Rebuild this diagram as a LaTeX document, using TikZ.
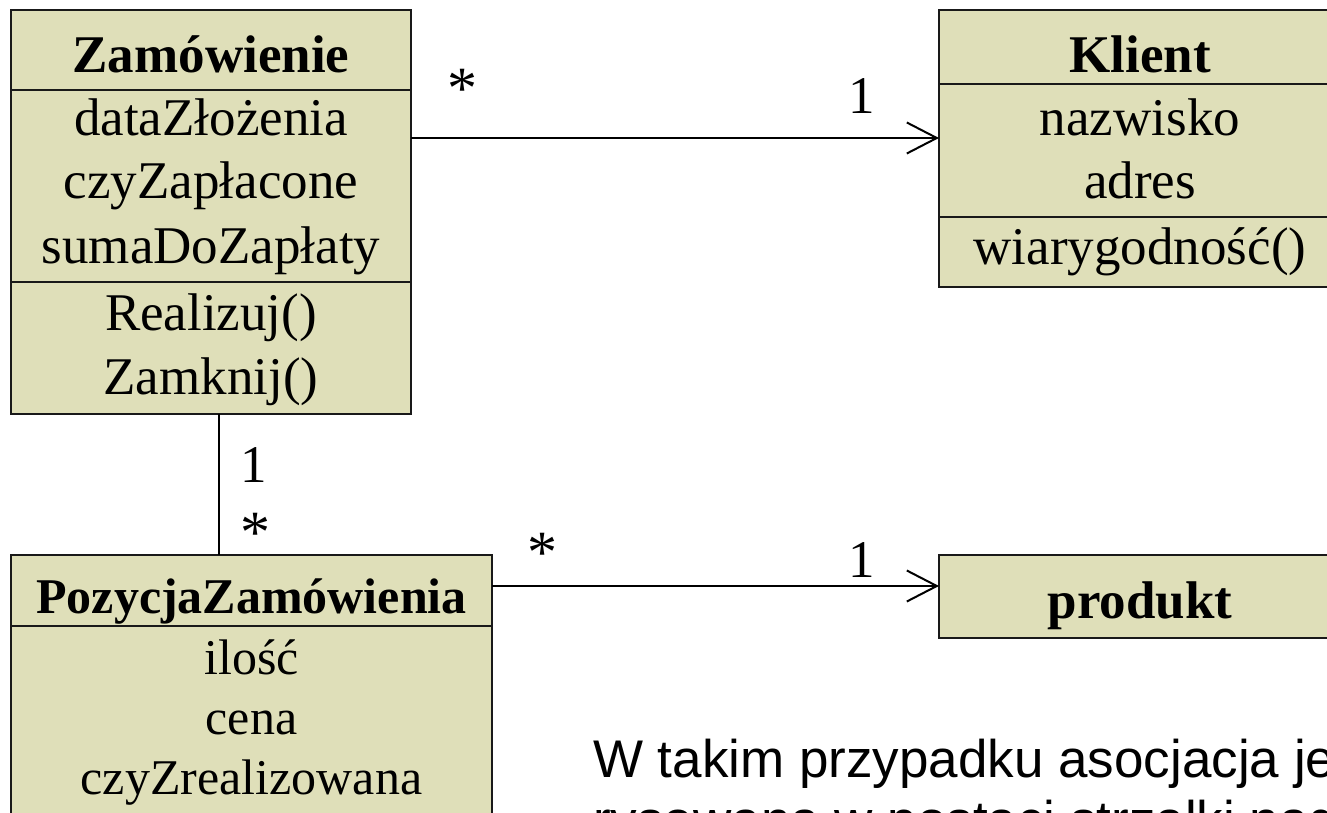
\documentclass[tikz,border=0pt]{standalone}
\usepackage{fontspec}
\setmainfont{Liberation Serif}
\newfontfamily\notefont{Liberation Sans}
\usetikzlibrary{arrows.meta}

\definecolor{umlfill}{RGB}{223,223,185}
\definecolor{umlline}{RGB}{25,25,25}

\tikzset{
  classbox/.style={draw=umlline, line width=2pt, fill=umlfill, inner sep=0pt, outer sep=0pt},
  divider/.style={draw=umlline, line width=2pt},
  member/.style={font=\fontsize{53}{63}\selectfont, inner sep=0pt, anchor=base},
  classname/.style={member, font=\fontsize{53}{63}\selectfont\bfseries},
  smallmember/.style={member, font=\fontsize{50}{60}\selectfont},
  smallname/.style={member, font=\fontsize{50}{60}\selectfont\bfseries},
  mult/.style={font=\fontsize{53}{63}\selectfont, inner sep=0pt, anchor=base},
  star/.style={font=\fontsize{60}{63}\selectfont, inner sep=0pt, anchor=base},
  link/.style={line width=2pt, draw=black},
  navlink/.style={link, -{Straight Barb[length=30pt, width=31pt]}},
  note/.style={font=\notefont\fontsize{53}{61}\selectfont, inner sep=0pt, anchor=base west}
}

\begin{document}
\begin{tikzpicture}[x=1pt, y=-1pt]
\useasboundingbox (0,0) rectangle (1327,813);
\clip (0,0) rectangle (1327,813);

% ---- class Zamówienie ----
\node[classbox, minimum width=400pt, minimum height=404pt] (zam) at (211,212) {};
\draw[divider] (zam.west |- 0,90) -- (zam.east |- 0,90);
\draw[divider] (zam.west |- 0,282) -- (zam.east |- 0,282);
\node[classname] (zamN) at (211,73) {Zamówienie};
\node[member] (zamA1) at (211,136) {dataZłożenia};
\node[member] (zamA2) at (211,199) {czyZapłacone};
\node[member] (zamA3) at (211,263) {sumaDoZapłaty};
\node[member] (zamO1) at (211,330) {Realizuj()};
\node[member] (zamO2) at (211,394) {Zamknij()};

% ---- class Klient ----
\node[classbox, minimum width=402pt, minimum height=277pt] (kli) at (1140,148.5) {};
\draw[divider] (kli.west |- 0,84) -- (kli.east |- 0,84);
\draw[divider] (kli.west |- 0,217) -- (kli.east |- 0,217);
\node[classname] (kliN) at (1140,73) {Klient};
\node[member] (kliA1) at (1140,136) {nazwisko};
\node[member] (kliA2) at (1140,198) {adres};
\node[member] (kliO1) at (1140,264) {wiarygodność()};

% ---- class produkt ----
\node[classbox, minimum width=402pt, minimum height=83pt] (prod) at (1140,596.5) {};
\node[classname] (prodN) at (1140,618) {produkt};

% ---- class PozycjaZamówienia ----
\node[classbox, minimum width=481pt, minimum height=345pt] (poz) at (251.5,727.5) {};
\draw[divider] (poz.west |- 0,626) -- (poz.east |- 0,626);
\node[smallname] (pozN) at (251.5,613) {PozycjaZamówienia};
\node[smallmember] (pozA1) at (251.5,674) {ilość};
\node[smallmember] (pozA2) at (251.5,734) {cena};
\node[smallmember] (pozA3) at (251.5,794) {czyZrealizowana};

% ---- associations ----
\coordinate (rowA) at (0,138);
\coordinate (rowB) at (0,586);
\draw[navlink] (zam.east |- rowA) -- (kli.west |- rowA);
\draw[link] (zam.south -| 219,0) -- (poz.north -| 219,0);
\draw[navlink] (poz.east |- rowB) -- (prod.west |- rowB);

% ---- multiplicities ----
\node[star] (m1) at (462,109) {*};
\node[mult] (m2) at (862,114) {1};
\node[mult] (m3) at (254,482) {1};
\node[star] (m4) at (255,552) {*};
\node[star] (m5) at (542,572) {*};
\node[mult] (m6) at (862,577) {1};

% ---- explanatory text ----
\node[note] (txt1) at (593,777) {W takim przypadku asocjacja jest};
\node[note] (txt2) at (593,838) {rysowana w postaci strzałki nad};
\end{tikzpicture}
\end{document}
